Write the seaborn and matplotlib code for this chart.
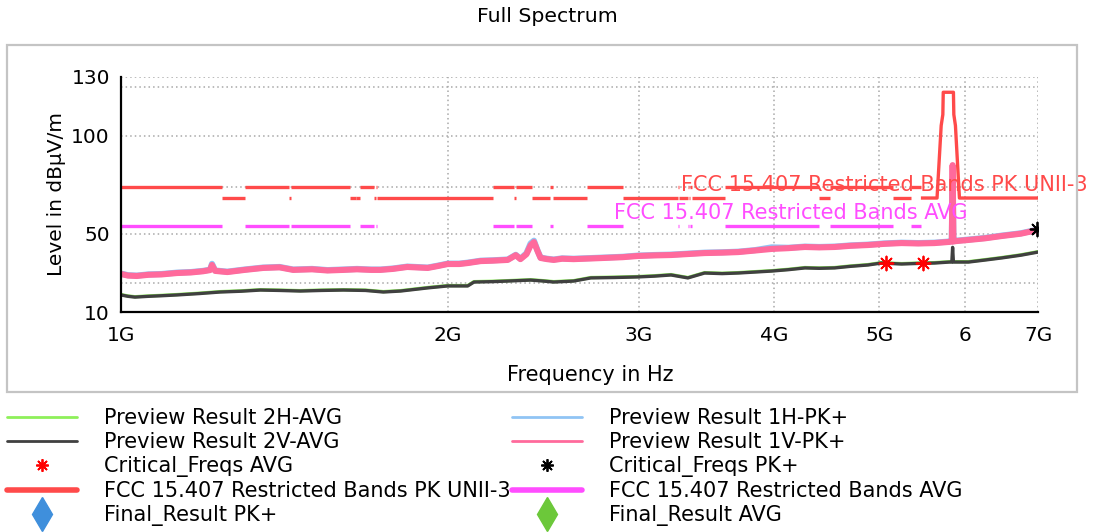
import numpy as np
import pandas as pd
import matplotlib
matplotlib.use("Agg")
import matplotlib.pyplot as plt
from matplotlib.lines import Line2D
from matplotlib.patches import Rectangle
from matplotlib.ticker import FixedLocator, FixedFormatter, NullLocator
import seaborn as sns

sns.set_theme(style="white")
plt.rcParams['font.family'] = ['DejaVu Sans']
plt.rcParams['text.color'] = 'black'

# ---------------- data ----------------
PK_FREQ_GHZ = [1.000, 1.015, 1.034, 1.060, 1.090, 1.126, 1.160, 1.190, 1.208, 1.213,
               1.221, 1.253, 1.300, 1.352, 1.400, 1.441, 1.500, 1.550, 1.603, 1.650,
               1.700, 1.734, 1.780, 1.836, 1.917, 1.960, 2.000, 2.050, 2.087, 2.145,
               2.200, 2.272, 2.311, 2.334, 2.364, 2.385, 2.402, 2.421, 2.436, 2.470,
               2.505, 2.550, 2.613, 2.700, 2.786, 2.900, 2.993, 3.100, 3.213, 3.330,
               3.450, 3.580, 3.705, 3.840, 3.977, 4.120, 4.269, 4.400, 4.546, 4.700,
               4.880, 5.050, 5.240, 5.430, 5.620, 5.800, 5.830, 5.840, 5.850, 5.880,
               6.040, 6.250, 6.480, 6.750, 7.000]
PK_1V = [29.4, 28.6, 28.4, 29.0, 29.2, 29.9, 30.2, 30.8, 31.4, 34.0,
         31.0, 30.4, 31.5, 32.5, 32.8, 31.5, 31.8, 31.2, 31.5, 31.8,
         31.5, 31.5, 32.0, 33.0, 32.5, 33.5, 34.5, 34.5, 35.0, 36.0,
         36.2, 36.6, 39.0, 37.0, 39.5, 44.0, 45.7, 41.0, 37.6, 37.0,
         36.6, 37.2, 37.0, 37.3, 37.6, 38.0, 38.6, 38.9, 39.1, 39.6,
         40.1, 40.3, 40.6, 41.4, 42.2, 42.6, 43.2, 43.0, 43.2, 43.8,
         44.2, 44.8, 45.2, 45.0, 45.2, 45.8, 46.0, 85.0, 46.0, 46.2,
         46.8, 47.6, 48.8, 50.0, 51.9]
PK_1H = [29.6, 28.8, 28.6, 29.2, 29.4, 30.1, 30.4, 31.0, 31.6, 34.6,
         31.2, 30.6, 31.7, 32.7, 33.0, 31.7, 32.0, 31.4, 31.7, 32.0,
         31.7, 31.7, 32.2, 33.2, 32.7, 33.7, 34.7, 34.7, 35.2, 36.2,
         36.4, 36.8, 39.2, 37.2, 40.0, 45.0, 46.4, 41.2, 37.8, 37.2,
         36.8, 37.4, 37.2, 37.5, 37.8, 38.2, 38.8, 39.1, 39.3, 39.8,
         40.3, 40.5, 40.8, 41.6, 43.0, 42.8, 43.4, 43.2, 43.4, 44.0,
         44.4, 45.0, 45.4, 45.2, 45.4, 46.0, 46.2, 78.0, 46.2, 46.4,
         47.0, 47.8, 49.0, 50.2, 52.1]

AVG_FREQ_GHZ = [1.000, 1.015, 1.030, 1.060, 1.090, 1.126, 1.180, 1.234, 1.290, 1.344,
                1.400, 1.463, 1.530, 1.603, 1.680, 1.745, 1.810, 1.917, 2.000, 2.087,
                2.115, 2.200, 2.272, 2.385, 2.450, 2.505, 2.613, 2.710, 2.850, 2.993,
                3.100, 3.213, 3.330, 3.450, 3.580, 3.705, 3.840, 3.977, 4.120, 4.269,
                4.400, 4.546, 4.700, 4.880, 5.020, 5.240, 5.430, 5.620, 5.800, 5.830,
                5.840, 5.850, 6.040, 6.250, 6.480, 6.750, 7.000]
AVG_2V = [18.7, 18.0, 17.6, 18.0, 18.3, 18.7, 19.4, 20.2, 20.6, 21.2,
          21.0, 20.7, 21.0, 21.2, 21.0, 20.2, 20.7, 22.3, 23.3, 23.3,
          25.3, 25.5, 25.8, 26.3, 25.8, 25.3, 25.8, 27.4, 27.6, 27.9,
          28.3, 28.9, 27.4, 29.9, 29.6, 29.9, 30.4, 30.9, 31.6, 32.5,
          32.3, 32.5, 33.3, 34.0, 35.0, 34.5, 34.8, 35.0, 35.5, 35.5,
          43.0, 35.5, 35.5, 36.5, 37.6, 39.0, 40.6]
AVG_2H = [18.9, 18.2, 17.8, 18.2, 18.5, 18.9, 19.6, 20.4, 20.8, 21.4,
          21.2, 20.9, 21.2, 21.4, 21.2, 20.4, 20.9, 22.5, 23.5, 23.5,
          25.5, 25.7, 26.0, 26.5, 26.0, 25.5, 26.0, 27.6, 27.8, 28.1,
          28.5, 29.1, 27.6, 30.1, 29.8, 30.1, 30.6, 31.1, 31.8, 32.7,
          32.5, 32.7, 33.5, 34.2, 35.2, 34.7, 35.0, 35.2, 35.7, 35.7,
          35.9, 35.7, 35.7, 36.7, 37.8, 39.2, 40.8]

CRIT_AVG_FREQ_GHZ = [5.075, 5.480]
CRIT_AVG_LEVEL = [35.2, 35.2]
CRIT_PK_FREQ_GHZ = [6.990]
CRIT_PK_LEVEL = [52.4]

RESTRICTED_BANDS_GHZ = [(1.0, 1.24), (1.3, 1.427), (1.435, 1.6265), (1.6455, 1.6465),
                        (1.66, 1.71), (1.7188, 1.7222), (2.2, 2.3), (2.31, 2.39),
                        (2.4835, 2.5), (2.69, 2.9), (3.26, 3.267), (3.332, 3.339),
                        (3.3458, 3.358), (3.6, 4.4), (4.5, 5.15), (5.35, 5.46)]
RESTRICTED_PK_LEVEL = 74.0
RESTRICTED_AVG_LEVEL = 54.0
NONRESTRICTED_PK_LEVEL = 68.2
UNII3_MASK_FREQ_GHZ = [5.65, 5.70, 5.72, 5.725, 5.85, 5.855, 5.875, 5.925]
UNII3_MASK_LEVEL = [68.2, 105.2, 110.8, 122.2, 122.2, 110.8, 105.2, 68.2]
F_START_GHZ, F_STOP_GHZ = 1.0, 7.0

X_TICKS_GHZ = [1, 2, 3, 4, 5, 6, 7]
X_TICK_LABELS = ['1G', '2G', '3G', '4G', '5G', '6', '7G']
Y_TICKS = [10, 25, 50, 74, 100, 125, 130]
Y_TICK_LABELS = ['10', '', '50', '', '100', '', '130']

# ---------------- build limit line tables ----------------
pk_rows, avg_rows = [], []
seg = 0
prev_end = F_START_GHZ
for lo, hi in RESTRICTED_BANDS_GHZ:
    if lo > prev_end:
        for f in (prev_end, lo):
            pk_rows.append((f, NONRESTRICTED_PK_LEVEL, seg))
        seg += 1
    for f in (lo, hi):
        pk_rows.append((f, RESTRICTED_PK_LEVEL, seg))
        avg_rows.append((f, RESTRICTED_AVG_LEVEL, seg))
    seg += 1
    prev_end = hi
gap_f = [prev_end] + UNII3_MASK_FREQ_GHZ + [F_STOP_GHZ]
gap_l = [NONRESTRICTED_PK_LEVEL] + UNII3_MASK_LEVEL + [NONRESTRICTED_PK_LEVEL]
for f, l in zip(gap_f, gap_l):
    pk_rows.append((f, l, seg))
pk_df = pd.DataFrame(pk_rows, columns=['f', 'level', 'seg'])
pk_df['f'] *= 1e9
avg_df = pd.DataFrame(avg_rows, columns=['f', 'level', 'seg'])
avg_df['f'] *= 1e9

pk_tr = pd.DataFrame({'f': np.array(PK_FREQ_GHZ) * 1e9, 'V': PK_1V, 'H': PK_1H})
avg_tr = pd.DataFrame({'f': np.array(AVG_FREQ_GHZ) * 1e9, 'V': AVG_2V, 'H': AVG_2H})

# ---------------- colours ----------------
C_GREEN = '#8ef05a'
C_GRAY = '#404040'
C_BLUE = '#90c4f4'
C_PINK = '#ff6a9c'
C_RED = '#ff4a4a'
C_MAG = '#ff4dff'

# ---------------- figure ----------------
W, H = 1094, 532
fig = plt.figure(figsize=(W / 100, H / 100), dpi=100)
fig.patch.set_facecolor('white')
ax = fig.add_axes([121 / W, 1 - 312 / H, (1038 - 121) / W, (312 - 77) / H])
ax.set_facecolor('white')
ax.set_xscale('log')

fig.add_artist(Rectangle((7 / W, 1 - 392 / H), (1077 - 7) / W, (392 - 45) / H,
                         transform=fig.transFigure, fill=False, ec='#c4c4c4', lw=1.6))

kw = dict(estimator=None, sort=False, legend=False, ax=ax)
sns.lineplot(data=avg_tr, x='f', y='H', color=C_GREEN, lw=2.4, **kw)
sns.lineplot(data=avg_tr, x='f', y='V', color=C_GRAY, lw=2.4, **kw)
sns.lineplot(data=pk_tr, x='f', y='H', color=C_BLUE, lw=4.4, **kw)
sns.lineplot(data=pk_tr, x='f', y='V', color=C_PINK, lw=4.4, **kw)
sns.lineplot(data=avg_df, x='f', y='level', units='seg', color=C_MAG, lw=2.4,
             solid_capstyle='butt', **kw)
sns.lineplot(data=pk_df, x='f', y='level', units='seg', color=C_RED, lw=2.4,
             solid_capstyle='butt', **kw)

ast = (8, 2, 0)
sns.scatterplot(x=np.array(CRIT_AVG_FREQ_GHZ) * 1e9, y=CRIT_AVG_LEVEL, marker=ast,
                s=100, color='#ff0000', linewidth=1.3, ax=ax, legend=False, zorder=5)
sns.scatterplot(x=np.array(CRIT_PK_FREQ_GHZ) * 1e9, y=CRIT_PK_LEVEL, marker=ast,
                s=100, color='black', linewidth=1.3, ax=ax, legend=False, zorder=5)

ax.text(3.282e9, 75.1, 'FCC 15.407 Restricted Bands PK UNII-3', color=C_RED,
        fontsize=15, ha='left', va='center')
ax.text(2.847e9, 60.3, 'FCC 15.407 Restricted Bands AVG', color=C_MAG,
        fontsize=15, ha='left', va='center')

ax.set_xlim(F_START_GHZ * 1e9, F_STOP_GHZ * 1e9)
ax.set_ylim(10, 130)
ax.xaxis.set_major_locator(FixedLocator([t * 1e9 for t in X_TICKS_GHZ]))
ax.xaxis.set_major_formatter(FixedFormatter(X_TICK_LABELS))
ax.xaxis.set_minor_locator(NullLocator())
ax.yaxis.set_major_locator(FixedLocator(Y_TICKS))
ax.yaxis.set_major_formatter(FixedFormatter(Y_TICK_LABELS))
ax.tick_params(axis='both', which='major', direction='inout', length=12, width=1.5,
               color='black', labelsize=14.5, labelcolor='black')
ax.tick_params(axis='x', pad=4)
ax.tick_params(axis='y', pad=2)
ax.grid(True, which='major', color='#a8a8a8', ls=(0, (1, 2)), lw=1.1)
for s in ('top', 'right'):
    ax.spines[s].set_visible(False)
for s in ('left', 'bottom'):
    ax.spines[s].set_color('black')
    ax.spines[s].set_linewidth(1.6)
ax.set_xlabel('Frequency in Hz', fontsize=15, color='black', labelpad=10)
ax.xaxis.set_label_coords((590 - 121) / (1038 - 121), -(375 - 312) / (312 - 77))
ax.xaxis.label.set_va('center')
ax.set_ylabel('Level in dBµV/m', fontsize=14.5, color='black', labelpad=4)

fig.text(0.5, 1 - 16 / H, 'Full Spectrum', ha='center', va='center', fontsize=14.7,
         color='black')

col1 = [Line2D([], [], color=C_GREEN, lw=2),
        Line2D([], [], color=C_GRAY, lw=2),
        Line2D([], [], ls='none', marker=ast, color='#ff0000', markersize=9, mew=1.3),
        Line2D([], [], color=C_RED, lw=4),
        Line2D([], [], ls='none', marker='d', color='#3f8fdc', markersize=17)]
lab1 = ['Preview Result 2H-AVG', 'Preview Result 2V-AVG', 'Critical_Freqs AVG',
        'FCC 15.407 Restricted Bands PK UNII-3', 'Final_Result PK+']
col2 = [Line2D([], [], color=C_BLUE, lw=2),
        Line2D([], [], color=C_PINK, lw=2),
        Line2D([], [], ls='none', marker=ast, color='black', markersize=9, mew=1.3),
        Line2D([], [], color=C_MAG, lw=4),
        Line2D([], [], ls='none', marker='d', color='#6cc83a', markersize=17)]
lab2 = ['Preview Result 1H-PK+', 'Preview Result 1V-PK+', 'Critical_Freqs PK+',
        'FCC 15.407 Restricted Bands AVG', 'Final_Result AVG']
lkw = dict(loc='upper left', frameon=False, fontsize=15, handlelength=3.36,
           handletextpad=1.3, labelspacing=0.19, borderpad=0, borderaxespad=0,
           bbox_transform=fig.transFigure, labelcolor='black')
fig.legend(col1, lab1, bbox_to_anchor=(7 / W, 1 - 408 / H), **lkw)
fig.legend(col2, lab2, bbox_to_anchor=(512 / W, 1 - 408 / H), **lkw)

fig.savefig('out.png', dpi=100)
